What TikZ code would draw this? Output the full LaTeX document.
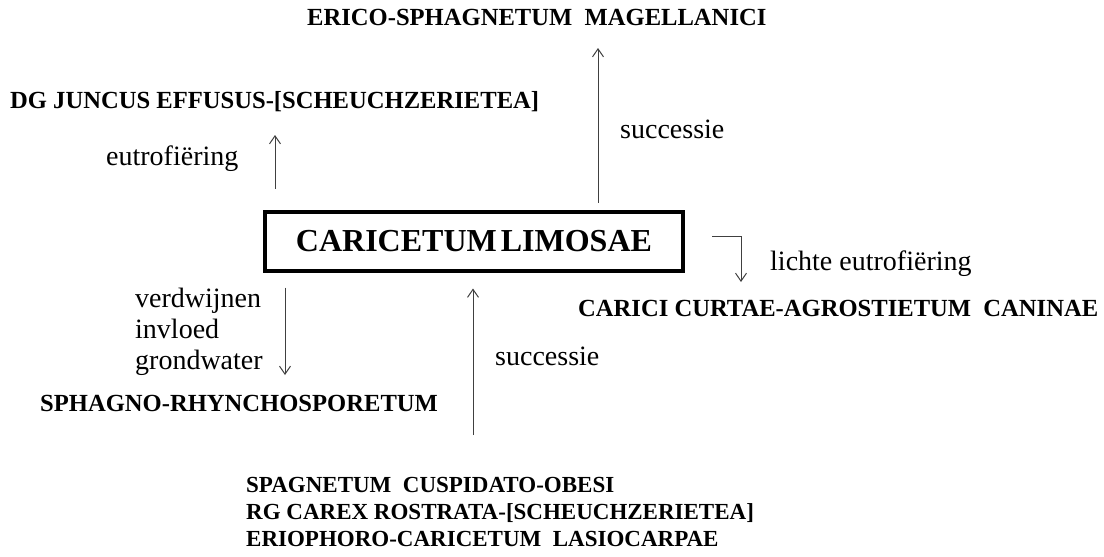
\documentclass[tikz,border=0pt]{standalone}
\usepackage{fontspec}
\setmainfont{Liberation Serif}
\usetikzlibrary{arrows.meta}

\tikzset{
  veg/.style={font=\fontsize{24.6}{24.6}\selectfont\bfseries, inner sep=0pt, anchor=base west},
  vegbelow/.style={veg, font=\fontsize{23}{23}\selectfont\bfseries},
  proc/.style={font=\fontsize{28}{28}\selectfont, inner sep=0pt, anchor=base west},
  assoc/.style={draw, line width=4pt, minimum width=418pt, minimum height=59pt,
    inner sep=0pt, font=\fontsize{32}{32}\selectfont\bfseries},
  flow/.style={->, line width=1pt, draw=black!75},
}

\begin{document}
\begin{tikzpicture}[x=1pt, y=-1pt, >={Straight Barb[length=8pt,width=11pt]}]
    \useasboundingbox (0,0) rectangle (1104,557);

    % the association in the box
    \node[assoc] (limosae) at (474,241) {CARICETUM\kern4pt LIMOSAE};

    % the associations round it
    \node[veg] (erico) at (307,25) {ERICO-SPHAGNETUM~~MAGELLANICI};
    \node[veg] (juncus) at (10,108) {DG JUNCUS EFFUSUS-[SCHEUCHZERIETEA]};
    \node[veg] (curtae) at (578,316) {CARICI CURTAE-AGROSTIETUM~~CANINAE};
    \node[veg] (sphagno) at (40,411) {SPHAGNO-RHYNCHOSPORETUM};

    % the three associations below
    \node[vegbelow] (obesi) at (246,492) {SPAGNETUM~~CUSPIDATO-OBESI};
    \node[vegbelow] (rostrata) at (246,519) {RG CAREX ROSTRATA-[SCHEUCHZERIETEA]};
    \node[vegbelow] (lasio) at (246,546) {ERIOPHORO-CARICETUM~~LASIOCARPAE};

    % the labels of the processes
    \node[proc] (eutro) at (106,165) {eutrofiëring};
    \node[proc] (succUp) at (620,138) {successie};
    \node[proc] (lichte) at (770,270) {lichte eutrofiëring};
    \node[proc] (verdw) at (135,307) {verdwijnen};
    \node[proc] (invloed) at (135,338) {invloed};
    \node[proc] (grondw) at (135,369) {grondwater};
    \node[proc] (succDown) at (495,365) {successie};

    % the free ends of the arrows
    \coordinate (juncusTip) at (275,135);
    \coordinate (ericoTip) at (598,48);
    \coordinate (curtaeTip) at (741,282);
    \coordinate (sphagnoTip) at (285,375);
    \coordinate (belowFoot) at (473,435);

    % arrows up from the box
    \draw[flow] ([yshift=21pt]limosae.north -| juncusTip) -- (juncusTip);
    \draw[flow] ([yshift=7pt]limosae.north -| ericoTip) -- (ericoTip);

    % the bent arrow on the right
    \draw[flow] ([shift={(27,-4.5)}]limosae.east) -| (curtaeTip);

    % arrow down on the left
    \draw[flow] ([yshift=-15pt]limosae.south -| sphagnoTip) -- (sphagnoTip);

    % arrow up from the three below
    \draw[flow] (belowFoot) -- ([yshift=-16pt]limosae.south -| belowFoot);
\end{tikzpicture}
\end{document}
